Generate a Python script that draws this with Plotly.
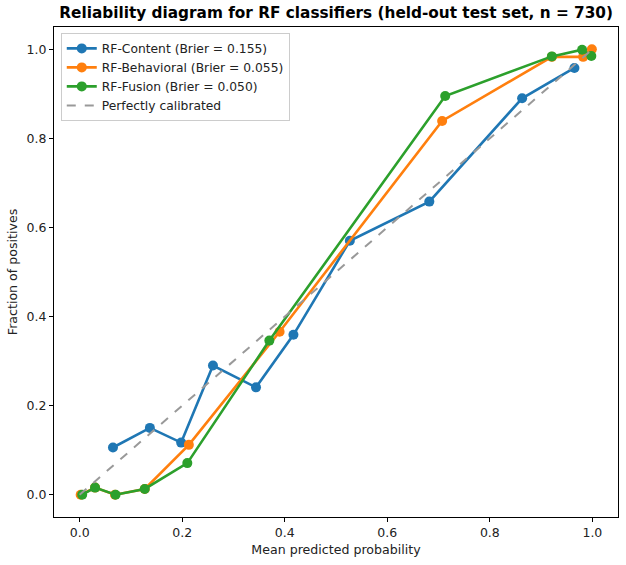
import plotly.graph_objects as go

content_x = [0.065, 0.137, 0.198, 0.260, 0.344, 0.417, 0.527, 0.682, 0.863, 0.965]
content_y = [0.106, 0.150, 0.117, 0.290, 0.241, 0.359, 0.570, 0.658, 0.890, 0.958]

behav_x = [0.002, 0.030, 0.069, 0.127, 0.213, 0.390, 0.707, 0.921, 0.982, 0.999]
behav_y = [0.000, 0.016, 0.000, 0.013, 0.112, 0.366, 0.839, 0.983, 0.983, 1.000]

fusion_x = [0.005, 0.030, 0.070, 0.127, 0.210, 0.370, 0.713, 0.921, 0.980, 0.998]
fusion_y = [0.000, 0.016, 0.000, 0.013, 0.071, 0.346, 0.895, 0.984, 0.999, 0.985]

diag = [0.0, 1.0]

names = ["RF-Content (Brier = 0.155)", "RF-Behavioral (Brier = 0.055)", "RF-Fusion (Brier = 0.050)"]
colors = ["#1f77b4", "#ff7f0e", "#2ca02c"]

fig = go.Figure()
for xs, ys, n, c in zip([content_x, behav_x, fusion_x], [content_y, behav_y, fusion_y], names, colors):
    fig.add_trace(go.Scatter(x=xs, y=ys, mode="lines+markers", name=n,
                             line=dict(color=c, width=2.6),
                             marker=dict(color=c, size=10)))
fig.add_trace(go.Scatter(x=diag, y=diag, mode="lines", name="Perfectly calibrated",
                         line=dict(color="#999999", width=2, dash="dash")))

axis_common = dict(showgrid=False, zeroline=False, showline=True, linecolor="black",
                   linewidth=1, mirror=True, ticks="outside", ticklen=4, tickcolor="black",
                   tickfont=dict(size=12.5, color="#222"), range=[-0.05, 1.05],
                   tickvals=[0, 0.2, 0.4, 0.6, 0.8, 1.0], ticktext=["0.0", "0.2", "0.4", "0.6", "0.8", "1.0"])

fig.update_layout(
    width=626, height=565,
    margin=dict(l=54, r=8, t=27, b=48),
    paper_bgcolor="white", plot_bgcolor="white",
    font=dict(family="DejaVu Sans", size=12, color="#222"),
    title=dict(text="<b>Reliability diagram for RF classifiers (held-out test set, n = 730)</b>",
               x=0.537, xanchor="center", y=0.987, yanchor="top", font=dict(size=15.3, color="black")),
    xaxis=dict(**axis_common, title=dict(text="Mean predicted probability", font=dict(size=12.6), standoff=6)),
    yaxis=dict(**axis_common, title=dict(text="Fraction of positives", font=dict(size=12.6), standoff=6)),
    legend=dict(x=0.012, y=0.988, xanchor="left", yanchor="top", bgcolor="rgba(255,255,255,0.8)",
                bordercolor="#cccccc", borderwidth=1, font=dict(size=12.3), tracegroupgap=0),
    showlegend=True,
)

fig.write_html("out.html")
